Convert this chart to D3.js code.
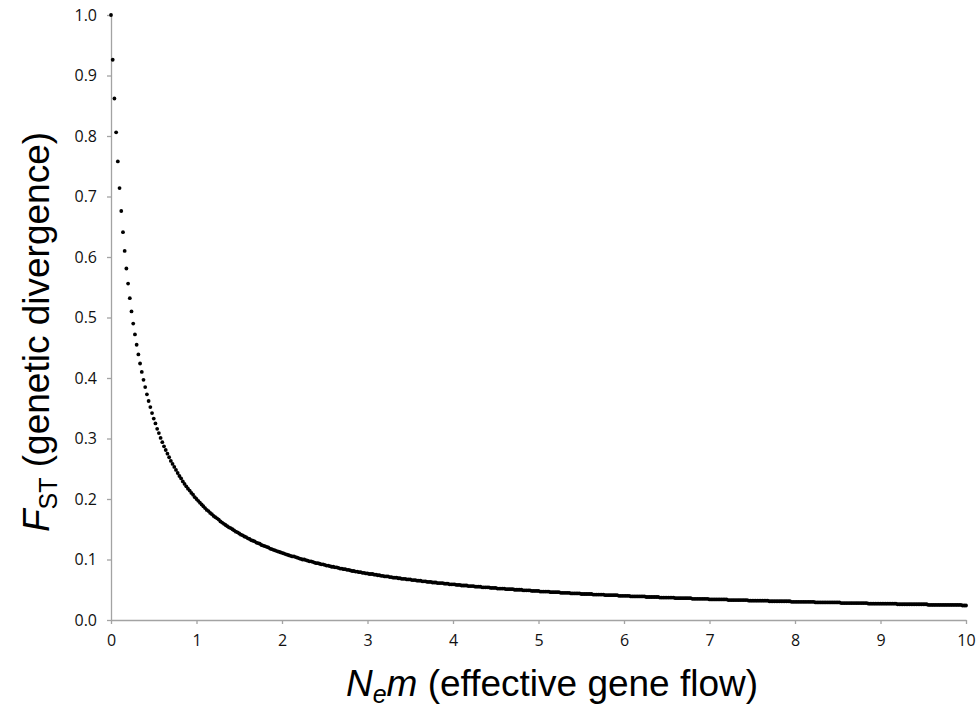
<!DOCTYPE html>
<html>
<head>
<meta charset="utf-8">
<script src="https://cdn.jsdelivr.net/npm/d3@7/dist/d3.min.js"></script>
<style>
  html, body { margin: 0; padding: 0; background: #fff; }
  svg { display: block; }
</style>
</head>
<body>
<svg id="chart" width="976" height="712"></svg>
<script>
// Nem (effective gene flow) sample positions
const nem = [
0,0.02,0.04,0.06,0.08,0.1,0.12,0.14,0.16,0.18,
0.2,0.22,0.24,0.26,0.28,0.3,0.32,0.34,0.36,0.38,
0.4,0.42,0.44,0.46,0.48,0.5,0.52,0.54,0.56,0.58,
0.6,0.62,0.64,0.66,0.68,0.7,0.72,0.74,0.76,0.78,
0.8,0.82,0.84,0.86,0.88,0.9,0.92,0.94,0.96,0.98,
1,1.02,1.04,1.06,1.08,1.1,1.12,1.14,1.16,1.18,
1.2,1.22,1.24,1.26,1.28,1.3,1.32,1.34,1.36,1.38,
1.4,1.42,1.44,1.46,1.48,1.5,1.52,1.54,1.56,1.58,
1.6,1.62,1.64,1.66,1.68,1.7,1.72,1.74,1.76,1.78,
1.8,1.82,1.84,1.86,1.88,1.9,1.92,1.94,1.96,1.98,
2,2.02,2.04,2.06,2.08,2.1,2.12,2.14,2.16,2.18,
2.2,2.22,2.24,2.26,2.28,2.3,2.32,2.34,2.36,2.38,
2.4,2.42,2.44,2.46,2.48,2.5,2.52,2.54,2.56,2.58,
2.6,2.62,2.64,2.66,2.68,2.7,2.72,2.74,2.76,2.78,
2.8,2.82,2.84,2.86,2.88,2.9,2.92,2.94,2.96,2.98,
3,3.02,3.04,3.06,3.08,3.1,3.12,3.14,3.16,3.18,
3.2,3.22,3.24,3.26,3.28,3.3,3.32,3.34,3.36,3.38,
3.4,3.42,3.44,3.46,3.48,3.5,3.52,3.54,3.56,3.58,
3.6,3.62,3.64,3.66,3.68,3.7,3.72,3.74,3.76,3.78,
3.8,3.82,3.84,3.86,3.88,3.9,3.92,3.94,3.96,3.98,
4,4.02,4.04,4.06,4.08,4.1,4.12,4.14,4.16,4.18,
4.2,4.22,4.24,4.26,4.28,4.3,4.32,4.34,4.36,4.38,
4.4,4.42,4.44,4.46,4.48,4.5,4.52,4.54,4.56,4.58,
4.6,4.62,4.64,4.66,4.68,4.7,4.72,4.74,4.76,4.78,
4.8,4.82,4.84,4.86,4.88,4.9,4.92,4.94,4.96,4.98,
5,5.02,5.04,5.06,5.08,5.1,5.12,5.14,5.16,5.18,
5.2,5.22,5.24,5.26,5.28,5.3,5.32,5.34,5.36,5.38,
5.4,5.42,5.44,5.46,5.48,5.5,5.52,5.54,5.56,5.58,
5.6,5.62,5.64,5.66,5.68,5.7,5.72,5.74,5.76,5.78,
5.8,5.82,5.84,5.86,5.88,5.9,5.92,5.94,5.96,5.98,
6,6.02,6.04,6.06,6.08,6.1,6.12,6.14,6.16,6.18,
6.2,6.22,6.24,6.26,6.28,6.3,6.32,6.34,6.36,6.38,
6.4,6.42,6.44,6.46,6.48,6.5,6.52,6.54,6.56,6.58,
6.6,6.62,6.64,6.66,6.68,6.7,6.72,6.74,6.76,6.78,
6.8,6.82,6.84,6.86,6.88,6.9,6.92,6.94,6.96,6.98,
7,7.02,7.04,7.06,7.08,7.1,7.12,7.14,7.16,7.18,
7.2,7.22,7.24,7.26,7.28,7.3,7.32,7.34,7.36,7.38,
7.4,7.42,7.44,7.46,7.48,7.5,7.52,7.54,7.56,7.58,
7.6,7.62,7.64,7.66,7.68,7.7,7.72,7.74,7.76,7.78,
7.8,7.82,7.84,7.86,7.88,7.9,7.92,7.94,7.96,7.98,
8,8.02,8.04,8.06,8.08,8.1,8.12,8.14,8.16,8.18,
8.2,8.22,8.24,8.26,8.28,8.3,8.32,8.34,8.36,8.38,
8.4,8.42,8.44,8.46,8.48,8.5,8.52,8.54,8.56,8.58,
8.6,8.62,8.64,8.66,8.68,8.7,8.72,8.74,8.76,8.78,
8.8,8.82,8.84,8.86,8.88,8.9,8.92,8.94,8.96,8.98,
9,9.02,9.04,9.06,9.08,9.1,9.12,9.14,9.16,9.18,
9.2,9.22,9.24,9.26,9.28,9.3,9.32,9.34,9.36,9.38,
9.4,9.42,9.44,9.46,9.48,9.5,9.52,9.54,9.56,9.58,
9.6,9.62,9.64,9.66,9.68,9.7,9.72,9.74,9.76,9.78,
9.8,9.82,9.84,9.86,9.88,9.9,9.92,9.94,9.96,9.98,
10
];

// FST (genetic divergence) read at each sample
const fst = [
1.000,0.926,0.862,0.806,0.758,0.714,0.676,0.641,0.610,0.581,
0.556,0.532,0.510,0.490,0.472,0.455,0.439,0.424,0.410,0.397,
0.385,0.373,0.362,0.352,0.342,0.333,0.325,0.316,0.309,0.301,
0.294,0.287,0.281,0.275,0.269,0.263,0.258,0.253,0.248,0.243,
0.238,0.234,0.229,0.225,0.221,0.217,0.214,0.210,0.207,0.203,
0.200,0.197,0.194,0.191,0.188,0.185,0.182,0.180,0.177,0.175,
0.172,0.170,0.168,0.166,0.163,0.161,0.159,0.157,0.155,0.153,
0.152,0.150,0.148,0.146,0.145,0.143,0.141,0.140,0.138,0.137,
0.135,0.134,0.132,0.131,0.130,0.128,0.127,0.126,0.124,0.123,
0.122,0.121,0.120,0.118,0.117,0.116,0.115,0.114,0.113,0.112,
0.111,0.110,0.109,0.108,0.107,0.106,0.105,0.105,0.104,0.103,
0.102,0.101,0.100,0.100,0.099,0.098,0.097,0.097,0.096,0.095,
0.094,0.094,0.093,0.092,0.092,0.091,0.090,0.090,0.089,0.088,
0.088,0.087,0.087,0.086,0.085,0.085,0.084,0.084,0.083,0.083,
0.082,0.081,0.081,0.080,0.080,0.079,0.079,0.078,0.078,0.077,
0.077,0.076,0.076,0.076,0.075,0.075,0.074,0.074,0.073,0.073,
0.072,0.072,0.072,0.071,0.071,0.070,0.070,0.070,0.069,0.069,
0.068,0.068,0.068,0.067,0.067,0.067,0.066,0.066,0.066,0.065,
0.065,0.065,0.064,0.064,0.064,0.063,0.063,0.063,0.062,0.062,
0.062,0.061,0.061,0.061,0.061,0.060,0.060,0.060,0.059,0.059,
0.059,0.059,0.058,0.058,0.058,0.057,0.057,0.057,0.057,0.056,
0.056,0.056,0.056,0.055,0.055,0.055,0.055,0.054,0.054,0.054,
0.054,0.054,0.053,0.053,0.053,0.053,0.052,0.052,0.052,0.052,
0.052,0.051,0.051,0.051,0.051,0.051,0.050,0.050,0.050,0.050,
0.050,0.049,0.049,0.049,0.049,0.049,0.048,0.048,0.048,0.048,
0.048,0.047,0.047,0.047,0.047,0.047,0.047,0.046,0.046,0.046,
0.046,0.046,0.046,0.045,0.045,0.045,0.045,0.045,0.045,0.044,
0.044,0.044,0.044,0.044,0.044,0.043,0.043,0.043,0.043,0.043,
0.043,0.043,0.042,0.042,0.042,0.042,0.042,0.042,0.042,0.041,
0.041,0.041,0.041,0.041,0.041,0.041,0.041,0.040,0.040,0.040,
0.040,0.040,0.040,0.040,0.039,0.039,0.039,0.039,0.039,0.039,
0.039,0.039,0.039,0.038,0.038,0.038,0.038,0.038,0.038,0.038,
0.038,0.037,0.037,0.037,0.037,0.037,0.037,0.037,0.037,0.037,
0.036,0.036,0.036,0.036,0.036,0.036,0.036,0.036,0.036,0.036,
0.035,0.035,0.035,0.035,0.035,0.035,0.035,0.035,0.035,0.035,
0.034,0.034,0.034,0.034,0.034,0.034,0.034,0.034,0.034,0.034,
0.034,0.033,0.033,0.033,0.033,0.033,0.033,0.033,0.033,0.033,
0.033,0.033,0.033,0.032,0.032,0.032,0.032,0.032,0.032,0.032,
0.032,0.032,0.032,0.032,0.032,0.031,0.031,0.031,0.031,0.031,
0.031,0.031,0.031,0.031,0.031,0.031,0.031,0.031,0.030,0.030,
0.030,0.030,0.030,0.030,0.030,0.030,0.030,0.030,0.030,0.030,
0.030,0.030,0.029,0.029,0.029,0.029,0.029,0.029,0.029,0.029,
0.029,0.029,0.029,0.029,0.029,0.029,0.029,0.028,0.028,0.028,
0.028,0.028,0.028,0.028,0.028,0.028,0.028,0.028,0.028,0.028,
0.028,0.028,0.028,0.027,0.027,0.027,0.027,0.027,0.027,0.027,
0.027,0.027,0.027,0.027,0.027,0.027,0.027,0.027,0.027,0.027,
0.026,0.026,0.026,0.026,0.026,0.026,0.026,0.026,0.026,0.026,
0.026,0.026,0.026,0.026,0.026,0.026,0.026,0.026,0.025,0.025,
0.025,0.025,0.025,0.025,0.025,0.025,0.025,0.025,0.025,0.025,
0.025,0.025,0.025,0.025,0.025,0.025,0.025,0.025,0.024,0.024,
0.024
];

const xTicks = [0,1,2,3,4,5,6,7,8,9,10];
const xTickLabels = ["0","1","2","3","4","5","6","7","8","9","10"];
const yTicks = [0.0,0.1,0.2,0.3,0.4,0.5,0.6,0.7,0.8,0.9,1.0];
const yTickLabels = ["0.0","0.1","0.2","0.3","0.4","0.5","0.6","0.7","0.8","0.9","1.0"];

const svg = d3.select("#chart");
const plotLeft = 111, plotRight = 966, plotTop = 15, plotBottom = 620;

const x = d3.scaleLinear().domain([0, 10]).range([plotLeft, plotRight]);
const y = d3.scaleLinear().domain([0, 1]).range([plotBottom, plotTop]);

const axisColor = "#a3a3a3";
const tickFont = "'Open Sans', 'Noto Sans', sans-serif";

// Y axis
const yAxis = svg.append("g")
  .attr("transform", `translate(${plotLeft},0)`)
  .call(d3.axisLeft(y).tickValues(yTicks)
    .tickFormat((d, i) => yTickLabels[i])
    .tickSize(4).tickSizeOuter(0).tickPadding(10));

// X axis
const xAxis = svg.append("g")
  .attr("transform", `translate(0,${plotBottom})`)
  .call(d3.axisBottom(x).tickValues(xTicks)
    .tickFormat((d, i) => xTickLabels[i])
    .tickSize(4).tickSizeOuter(0).tickPadding(11));

[yAxis, xAxis].forEach(g => {
  g.select(".domain").attr("stroke", axisColor).attr("stroke-width", 1.3);
  g.selectAll(".tick line").attr("stroke", axisColor).attr("stroke-width", 1.3);
  g.selectAll(".tick text")
    .attr("fill", "#111")
    .style("font-family", tickFont)
    .style("font-size", "16px");
});

// Points
const pts = nem.map((v, i) => ({ x: v, y: fst[i] }));
svg.append("g")
  .selectAll("circle")
  .data(pts)
  .join("circle")
  .attr("cx", d => x(d.x))
  .attr("cy", d => y(d.y))
  .attr("r", 1.9)
  .attr("fill", "#000");

const titleFont = "'Liberation Sans', Arial, sans-serif";

// X title
const xt = svg.append("text")
  .attr("x", 552).attr("y", 696)
  .attr("text-anchor", "middle")
  .style("font-family", titleFont)
  .style("font-size", "37px")
  .attr("fill", "#000");
xt.append("tspan").style("font-style", "italic").text("N");
xt.append("tspan").style("font-style", "italic").style("font-size", "25px").attr("dy", 7).text("e");
xt.append("tspan").style("font-style", "italic").attr("dy", -7).text("m");
xt.append("tspan").text(" (effective gene flow)");

// Y title
const yt = svg.append("text")
  .attr("transform", "translate(49,332) rotate(-90)")
  .attr("text-anchor", "middle")
  .style("font-family", titleFont)
  .style("font-size", "37px")
  .attr("fill", "#000");
yt.append("tspan").style("font-style", "italic").text("F");
yt.append("tspan").style("font-size", "25px").attr("dy", 8).text("ST");
yt.append("tspan").attr("dy", -8).text(" (genetic divergence)");
</script>
</body>
</html>
